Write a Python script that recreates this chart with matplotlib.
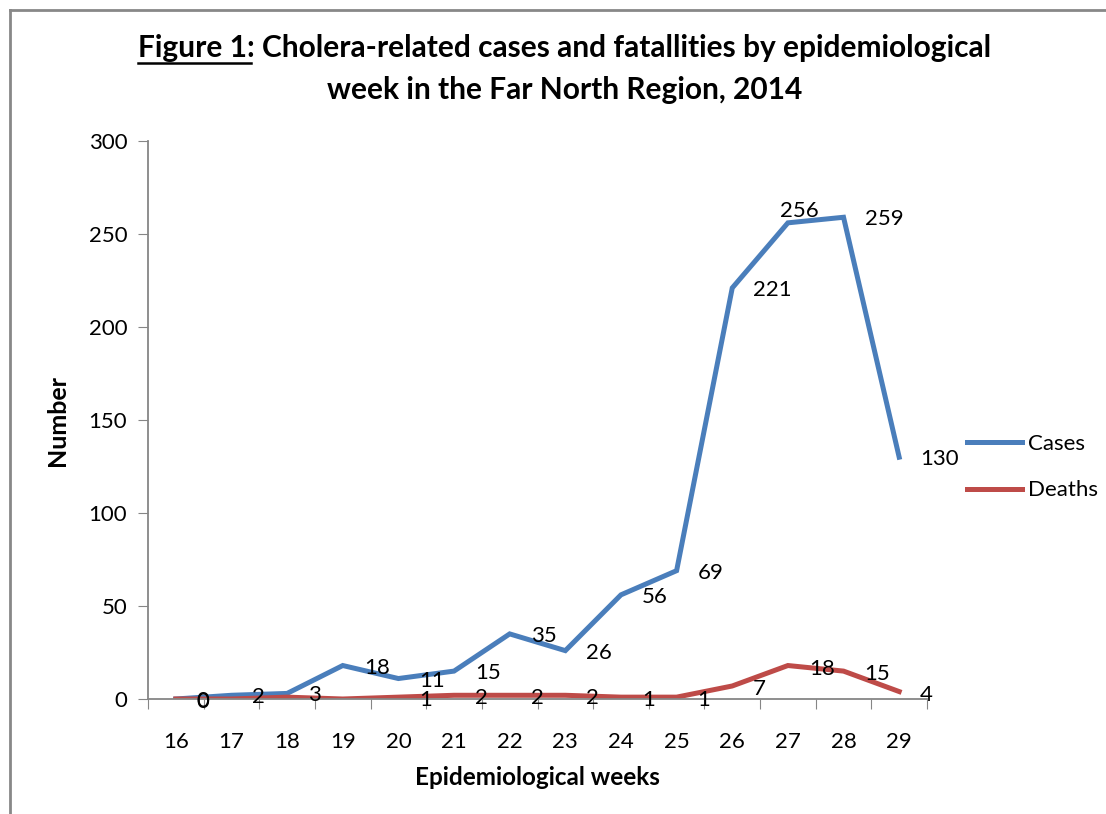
import numpy as np
import matplotlib.pyplot as plt
from matplotlib.lines import Line2D

plt.rcParams['font.family'] = ['Lato', 'DejaVu Sans']

weeks = ['16', '17', '18', '19', '20', '21', '22', '23', '24', '25', '26', '27', '28', '29']
cases = [0, 2, 3, 18, 11, 15, 35, 26, 56, 69, 221, 256, 259, 130]
deaths = [0, 0, 1, 0, 1, 2, 2, 2, 1, 1, 7, 18, 15, 4]
# which data labels are visible in the original
deaths_shown = [True, False, False, False, True, True, True, True, True, True, True, True, True, True]

blue = '#4A7EBB'
red = '#BE4B48'
gray = '#868686'

fig = plt.figure(figsize=(11.06, 8.14), dpi=100)
ax = fig.add_axes([148 / 1106, 1 - 699 / 814, (927 - 148) / 1106, (699 - 141) / 814])

x = np.arange(len(weeks)) + 0.5
ax.plot(x, cases, color=blue, lw=3.6, label='Cases', solid_joinstyle='miter')
ax.plot(x, deaths, color=red, lw=3.6, label='Deaths', solid_joinstyle='miter')

lab_fs = 16
for xi, v in zip(x, cases):
    if v == 256:
        ax.annotate(str(v), (xi, v), xytext=(11, 12), textcoords='offset pixels',
                    ha='center', va='center', fontsize=lab_fs)
    else:
        ax.annotate(str(v), (xi, v), xytext=(21, -2), textcoords='offset pixels',
                    ha='left', va='center', fontsize=lab_fs)
for xi, v, s in zip(x, deaths, deaths_shown):
    if s:
        ax.annotate(str(v), (xi, v), xytext=(21, -3), textcoords='offset pixels',
                    ha='left', va='center', fontsize=lab_fs)

ax.set_xlim(0, len(weeks))
ax.set_ylim(0, 300)
ax.set_yticks(np.arange(0, 301, 50))
ax.set_xticks(np.arange(0, len(weeks) + 1))
ax.set_xticklabels([])
ax.set_xticks(x, minor=True)
ax.set_xticklabels(weeks, minor=True)
ax.tick_params(axis='x', which='minor', length=0, pad=24, labelsize=16)
ax.tick_params(axis='x', which='major', length=7, color=gray, direction='out')
ax.tick_params(axis='y', length=7, color=gray, labelsize=16, pad=8)
for s in ['top', 'right']:
    ax.spines[s].set_visible(False)
for s in ['left', 'bottom']:
    ax.spines[s].set_color(gray)
    ax.spines[s].set_linewidth(1.3)

ax.set_xlabel('Epidemiological weeks', fontsize=17.5, fontweight='bold', labelpad=10)
ax.set_ylabel('Number', fontsize=18, fontweight='bold', labelpad=14)

fig.legend(loc='center left', bbox_to_anchor=(958 / 1106, 1 - 467 / 814), frameon=False,
           fontsize=16, handlelength=2.5, handletextpad=0.25, labelspacing=1.2,
           borderaxespad=0)

# title with underlined "Figure 1:"
tfs = 21.5
t1 = fig.text(565 / 1106, 1 - 48 / 814,
              'Figure 1: Cholera-related cases and fatallities by epidemiological',
              ha='center', va='center', fontsize=tfs, fontweight='bold')
fig.text(565 / 1106, 1 - 90 / 814, 'week in the Far North Region, 2014',
         ha='center', va='center', fontsize=tfs, fontweight='bold')
fig.canvas.draw()
r = fig.canvas.get_renderer()
bb = t1.get_window_extent(r)
tmp = fig.text(bb.x0 / 1106, 0.5, 'Figure 1:', fontsize=tfs, fontweight='bold')
bw = tmp.get_window_extent(r).width
tmp.remove()
uy = (bb.y0 - 1) / 814
fig.add_artist(Line2D([bb.x0 / 1106, (bb.x0 + bw - 4) / 1106], [uy, uy],
                      color='black', lw=1.8, transform=fig.transFigure))

# outer frame
fig.add_artist(Line2D([10 / 1106, 10 / 1106], [0, 1 - 10 / 814], color='#888888', lw=2,
                      transform=fig.transFigure))
fig.add_artist(Line2D([10 / 1106, 1], [1 - 10 / 814, 1 - 10 / 814], color='#888888', lw=2,
                      transform=fig.transFigure))

fig.savefig('out.png', dpi=100)
